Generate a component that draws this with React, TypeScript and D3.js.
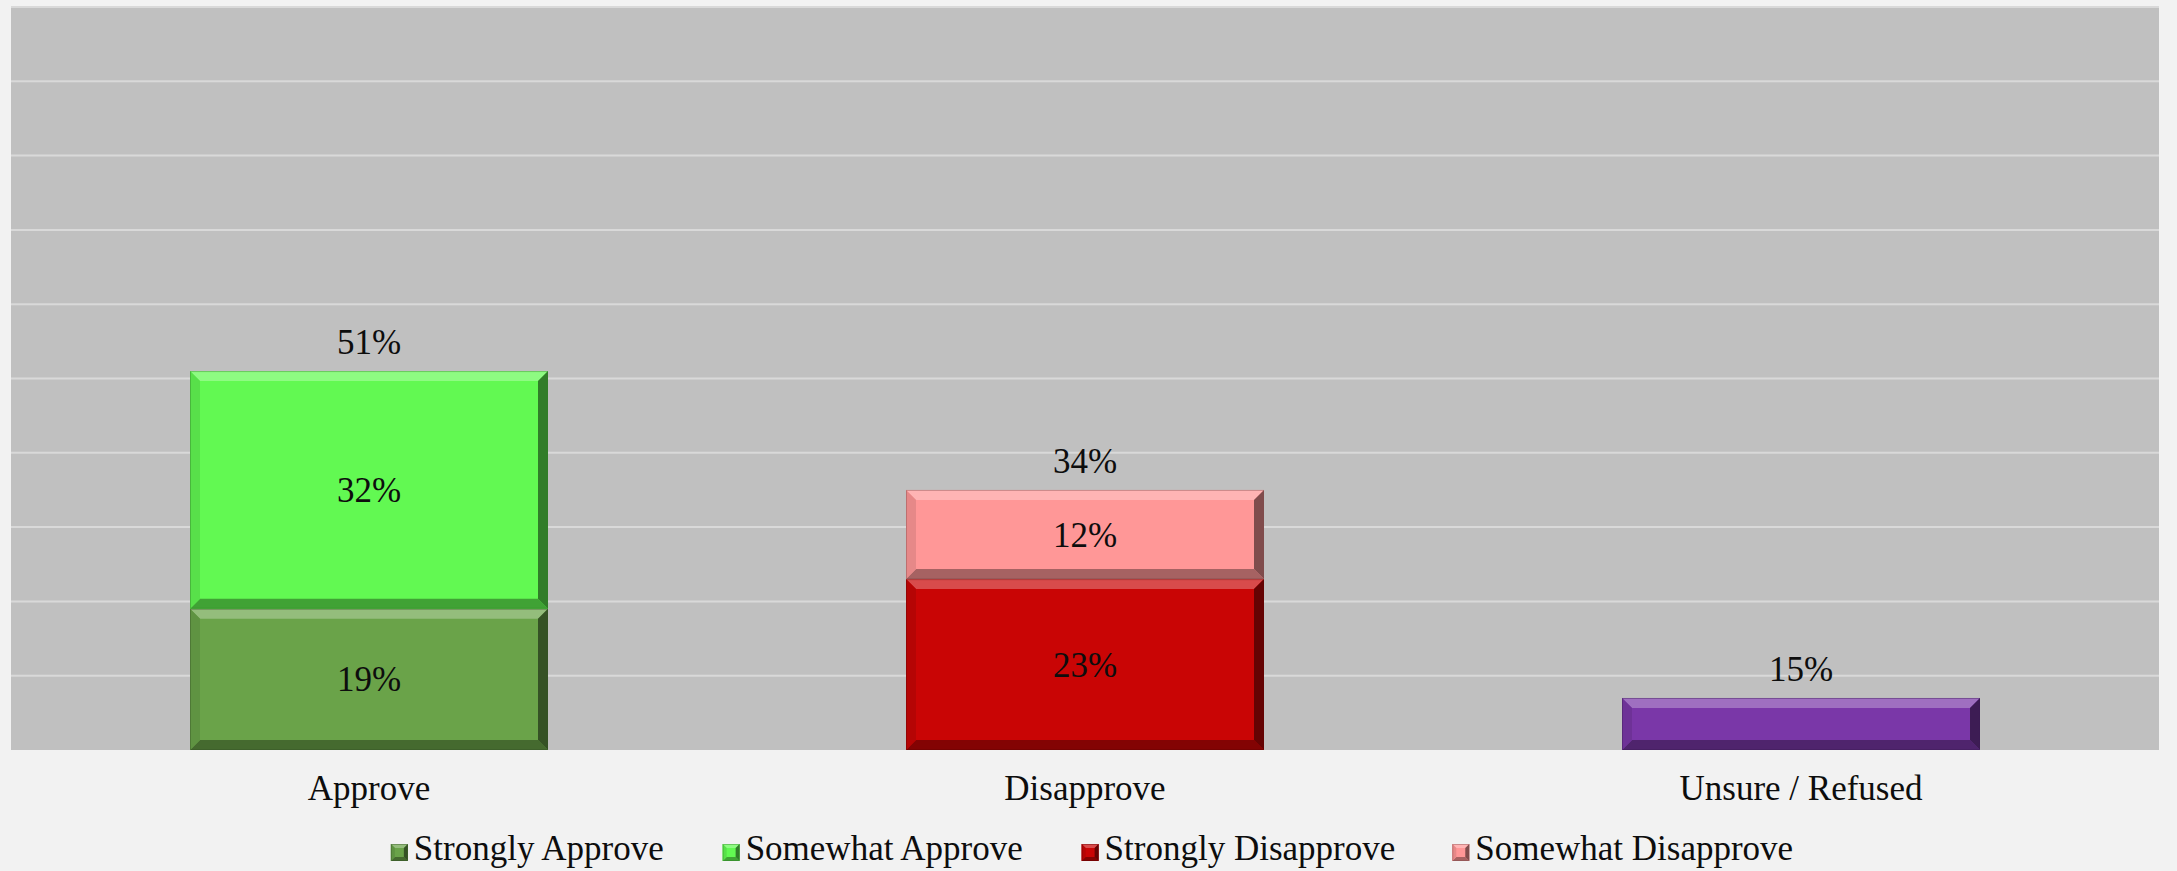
import React from "react";
import * as d3 from "d3";

const categories = ["Approve", "Disapprove", "Unsure / Refused"];
const seriesNames = ["Strongly Approve", "Somewhat Approve", "Strongly Disapprove", "Somewhat Disapprove", "Unsure / Refused"];
const stronglyApprove = [19, 0, 0];
const somewhatApprove = [32, 0, 0];
const stronglyDisapprove = [0, 23, 0];
const somewhatDisapprove = [0, 12, 0];
const unsureRefused = [0, 0, 7];
const totalLabels = ["51%", "34%", "15%"];
const seriesColors = ["#6aa349", "#62f952", "#c90505", "#ff9797", "#7a37a8"];
const legendSeries = [0, 1, 2, 3];
const yTicks = [0, 10, 20, 30, 40, 50, 60, 70, 80, 90, 100];

const W = 2177, H = 871;
const FONT = "'Liberation Serif', 'Times New Roman', serif";
const FS = 35;

function measure(text: string, size: number) {
  const c = document.createElement("canvas").getContext("2d")!;
  c.font = `${size}px 'Liberation Serif'`;
  return c.measureText(text).width;
}

function Bevel({ x, y, w, h, color, b0 = 10 }: any) {
  const b = Math.min(b0, h / 3, w / 3);
  const c = d3.color(color)!;
  const light = d3.interpolateRgb(color, "#ffffff")(0.28);
  const dark = d3.interpolateRgb(color, "#000000")(0.35);
  const mid = d3.interpolateRgb(color, "#000000")(0.1);
  const darker = d3.interpolateRgb(color, "#000000")(0.5);
  const pts = (a: number[][]) => a.map((p) => p.join(",")).join(" ");
  return (
    <g>
      <rect x={x} y={y} width={w} height={h} fill={c.formatHex()} />
      <polygon points={pts([[x, y], [x + w, y], [x + w - b, y + b], [x + b, y + b]])} fill={light} />
      <polygon points={pts([[x, y + h], [x + w, y + h], [x + w - b, y + h - b], [x + b, y + h - b]])} fill={dark} />
      <polygon points={pts([[x, y], [x + b, y + b], [x + b, y + h - b], [x, y + h]])} fill={mid} />
      <polygon points={pts([[x + w, y], [x + w - b, y + b], [x + w - b, y + h - b], [x + w, y + h]])} fill={darker} />
      <rect x={x + 0.5} y={y + 0.5} width={w - 1} height={h - 1} fill="none" stroke={darker} strokeOpacity={0.4} strokeWidth={1} />
    </g>
  );
}

export default function App() {
  React.useEffect(() => {
    document.body.style.margin = "0";
    document.body.style.background = "#f2f2f2";
  }, []);

  const x = d3.scaleBand().domain(categories).range([11, 2159]).paddingInner(0.5).paddingOuter(0.25);
  const y = d3.scaleLinear().domain([0, 100]).range([750, 7]);
  const allSeries = [stronglyApprove, somewhatApprove, stronglyDisapprove, somewhatDisapprove, unsureRefused];

  const stackData = categories.map((cat, i) => {
    const o: any = { cat };
    seriesNames.forEach((s, k) => (o[s] = allSeries[k][i]));
    return o;
  });
  const stacked = d3.stack().keys(seriesNames)(stackData as any);

  // legend layout
  const sw = 17, gapT = 6, gapItem = 57;
  const widths = legendSeries.map((k) => measure(seriesNames[k], FS));
  const total = widths.reduce((a, b) => a + b + sw + gapT, 0) + gapItem * (legendSeries.length - 1);
  let lx = 1092 - total / 2;
  const legendItems = legendSeries.map((k, i) => {
    const item = { k, x: lx };
    lx += sw + gapT + widths[i] + gapItem;
    return item;
  });

  return (
    <svg width={W} height={H} style={{ display: "block" }} fontFamily={FONT}>
      <rect x={0} y={0} width={W} height={H} fill="#f2f2f2" />
      <rect x={11} y={y(100)} width={2148} height={y(0) - y(100)} fill="#c0c0c0" />
      {yTicks.slice(1).map((t) => (
        <line key={t} x1={11} x2={2159} y1={y(t)} y2={y(t)} stroke="#d9d9d9" strokeWidth={2} />
      ))}
      {stacked.map((layer, k) =>
        layer.map((d, i) => {
          const v = d[1] - d[0];
          if (v <= 0) return null;
          const bx = x(categories[i])!;
          const by = y(d[1]);
          const bh = y(d[0]) - y(d[1]);
          return (
            <g key={`${k}-${i}`}>
              <Bevel x={bx} y={by} w={x.bandwidth()} h={bh} color={seriesColors[k]} />
              {k < 4 && (
                <text x={bx + x.bandwidth() / 2} y={by + bh / 2 + 12} textAnchor="middle" fontSize={FS} fill="#0d0d0d">
                  {`${v}%`}
                </text>
              )}
            </g>
          );
        })
      )}
      {categories.map((c, i) => {
        const top = d3.max(stacked, (l) => l[i][1])!;
        return (
          <text key={c} x={x(c)! + x.bandwidth() / 2} y={y(top) - 17} textAnchor="middle" fontSize={FS} fill="#0d0d0d">
            {totalLabels[i]}
          </text>
        );
      })}
      {categories.map((c) => (
        <text key={c} x={x(c)! + x.bandwidth() / 2} y={800} textAnchor="middle" fontSize={FS} fill="#0d0d0d">
          {c}
        </text>
      ))}
      {legendItems.map(({ k, x: ix }) => (
        <g key={k}>
          <Bevel x={ix} y={844} w={sw} h={sw} color={seriesColors[k]} b0={4} />
          <text x={ix + sw + gapT} y={860} fontSize={FS} fill="#0d0d0d">
            {seriesNames[k]}
          </text>
        </g>
      ))}
    </svg>
  );
}
